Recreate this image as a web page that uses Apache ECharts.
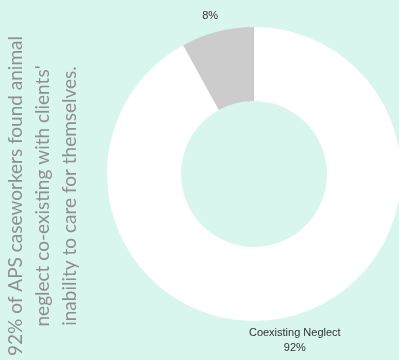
<!DOCTYPE html>
<html><head><meta charset="utf-8">
<script src="https://cdn.jsdelivr.net/npm/echarts@6/dist/echarts.min.js"></script>
<style>html,body{margin:0;padding:0;background:#d9f6ee}#c{width:399px;height:360px}</style>
</head><body><div id="c"></div>
<script>
var categories = ['Coexisting Neglect', ''];
var values = [92, 8];
var labels = ['Coexisting Neglect\n92%', '8%'];
var titleLines = ["92% of APS caseworkers found animal", "neglect co-existing with clients'", "inability to care for themselves."];

var chart = echarts.init(document.getElementById('c'));
chart.setOption({
  backgroundColor: '#d9f6ee',
  animation: false,
  graphic: [{
    type: 'text',
    x: 43, y: 196,
    rotation: Math.PI / 2,
    style: {
      text: titleLines.join('\n'),
      fontFamily: 'Lato',
      fontSize: 19,
      lineHeight: 27,
      fill: '#8f8f8f',
      align: 'center',
      verticalAlign: 'middle'
    }
  }],
  series: [{
    type: 'pie',
    center: [254, 174],
    radius: [73, 147],
    startAngle: 90,
    clockwise: true,
    data: categories.map(function (c, i) {
      return { name: c, value: values[i], label: { formatter: labels[i] } };
    }),
    color: ['#ffffff', '#cccccc'],
    itemStyle: { borderWidth: 0 },
    label: {
      show: true, position: 'outside', color: '#333', fontSize: 11,
      fontFamily: 'Liberation Sans, Arial', align: 'center', lineHeight: 15,
      overflow: 'none'
    },
    labelLine: { show: false, length: 9, length2: 0 },
    labelLayout: function (p) {
      var pts = p.labelLinePoints;
      var up = pts && pts[2][1] < pts[0][1];
      var left = pts && pts[2][0] < pts[0][0];
      return { align: 'center', verticalAlign: up ? 'bottom' : 'top', dx: left ? 0 : -3, dy: up ? 1 : 0 };
    },
    emphasis: { disabled: true }
  }]
});
</script></body></html>
